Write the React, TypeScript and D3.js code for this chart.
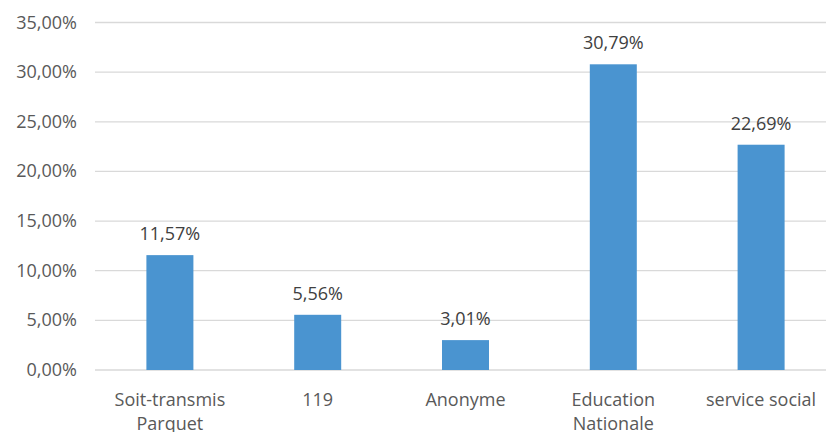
import React, { useEffect, useRef } from 'react';
import * as d3 from 'd3';

const categories = [['Soit-transmis', 'Parquet'], ['119'], ['Anonyme'], ['Education', 'Nationale'], ['service social']];
const values = [11.57, 5.56, 3.01, 30.79, 22.69];
const yTicks = [0, 5, 10, 15, 20, 25, 30, 35];

const fmt = (v: number) => v.toFixed(2).replace('.', ',') + '%';

function App() {
  const svgRef = useRef<SVGSVGElement>(null);
  const width = 826;
  const height = 432;

  useEffect(() => {
    if (!svgRef.current) return;
    const svg = d3.select(svgRef.current);
    svg.selectAll('*').remove();

    const left = 96;
    const right = 835;
    const top = 22.5;
    const bottom = 370;
    const font = '"Open Sans", sans-serif';

    const x = d3.scaleBand<number>()
      .domain(values.map((_, i) => i))
      .range([left, right])
      .padding(0);
    const barW = x.bandwidth() * 0.318;

    const y = d3.scaleLinear().domain([0, 35]).range([bottom, top]);

    // gridlines
    svg.append('g')
      .selectAll('line')
      .data(yTicks)
      .enter().append('line')
      .attr('x1', left - 1)
      .attr('x2', right)
      .attr('y1', d => y(d))
      .attr('y2', d => y(d))
      .attr('stroke', '#d9d9d9')
      .attr('stroke-width', 1.3);

    // y tick labels
    svg.append('g')
      .selectAll('text')
      .data(yTicks)
      .enter().append('text')
      .attr('x', 77)
      .attr('y', d => y(d) + 6)
      .attr('text-anchor', 'end')
      .style('font-family', font)
      .style('font-size', '18px')
      .style('fill', '#595959')
      .text(d => fmt(d));

    // bars
    svg.append('g')
      .selectAll('rect')
      .data(values)
      .enter().append('rect')
      .attr('x', (_, i) => x(i)! + x.bandwidth() / 2 - barW / 2)
      .attr('y', d => y(d))
      .attr('width', barW)
      .attr('height', d => bottom - y(d))
      .attr('fill', '#4a94d0');

    // value labels
    svg.append('g')
      .selectAll('text')
      .data(values)
      .enter().append('text')
      .attr('x', (_, i) => x(i)! + x.bandwidth() / 2)
      .attr('y', d => y(d) - 15)
      .attr('text-anchor', 'middle')
      .style('font-family', font)
      .style('font-size', '18px')
      .style('fill', '#404040')
      .text(d => fmt(d));

    // category labels
    const cat = svg.append('g')
      .selectAll('text')
      .data(categories)
      .enter().append('text')
      .attr('x', (_, i) => x(i)! + x.bandwidth() / 2)
      .attr('y', 406)
      .attr('text-anchor', 'middle')
      .style('font-family', font)
      .style('font-size', '18px')
      .style('fill', '#595959');
    cat.selectAll('tspan')
      .data(d => d)
      .enter().append('tspan')
      .attr('x', function () { return (this.parentNode as SVGTextElement).getAttribute('x'); })
      .attr('dy', (_, j) => (j === 0 ? 0 : 24))
      .text(d => d);
  }, []);

  return (
    <svg
      ref={svgRef}
      width={width}
      height={height}
      style={{ position: 'absolute', left: 0, top: 0, background: '#fff' }}
    ></svg>
  );
}

export default App;
